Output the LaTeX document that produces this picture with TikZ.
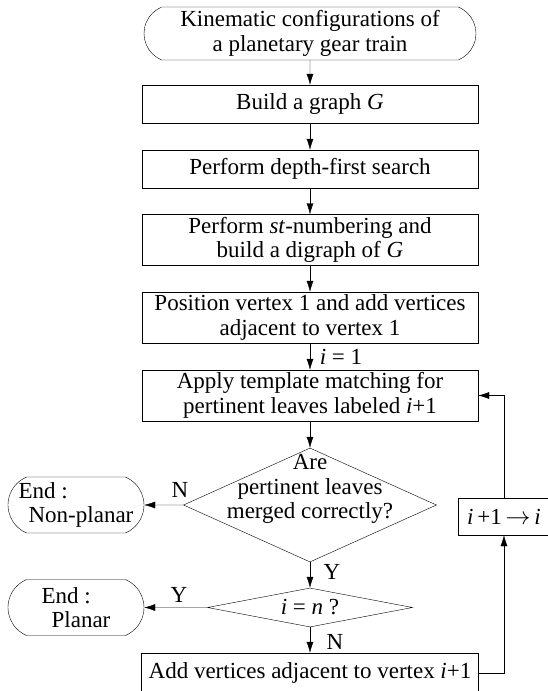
\documentclass[tikz,border=0pt]{standalone}
\usepackage{fontspec}
\setmainfont{Liberation Serif}
\usetikzlibrary{shapes.geometric,shapes.misc,arrows.meta}
\pgfdeclarelayer{edgelayer}
\pgfdeclarelayer{nodelayer}
\pgfsetlayers{edgelayer,nodelayer,main}
\tikzset{font=\fontsize{23}{24.5}\selectfont}
\tikzstyle{none}=[inner sep=0pt]
\tikzstyle{term}=[rounded rectangle,rounded rectangle arc length=135,draw,minimum width=332pt,minimum height=53pt,align=center,inner sep=0pt]
\tikzstyle{endterm}=[term,minimum width=136pt,minimum height=56pt,align=left]
\tikzstyle{proc}=[rectangle,draw,minimum width=336pt,minimum height=38pt,align=center,inner sep=0pt]
\tikzstyle{proc2}=[proc,minimum height=51pt]
\tikzstyle{decision}=[diamond,draw,inner sep=0pt]
\tikzstyle{flow}=[-{Latex[length=11pt,width=7pt]}]

\begin{document}
\begin{tikzpicture}[x=1pt,y=-1pt,line width=1.3pt]
	\useasboundingbox (0,0) rectangle (548,691);
	\begin{pgfonlayer}{nodelayer}
		\node [style=term] (0) at (310, 33.5) {Kinematic configurations of\\a planetary gear train};
		\node [style=proc] (1) at (310, 104) {Build a graph \textit{G}};
		\node [style=proc] (2) at (310, 169) {Perform depth-first search};
		\node [style=proc2] (3) at (310, 240) {Perform \textit{st}-numbering and\\build a digraph of \textit{G}};
		\node [style=proc2] (4) at (310, 317.5) {Position vertex 1 and add vertices\\adjacent to vertex 1};
		\node [style=proc2] (5) at (310, 395.5) {Apply template matching for\\pertinent leaves labeled \textit{i}+1};
		\node [style=decision, minimum width=253pt, minimum height=114pt] (6) at (310, 505) {};
		\node [style=none, align=center] (7) at (310, 489) {Are\\pertinent leaves\\merged correctly?};
		\node [style=endterm] (8) at (76, 505) {End :\\\hspace*{10pt}Non-planar};
		\node [style=decision, minimum width=205pt, minimum height=39pt] (9) at (310, 607.5) {};
		\node [style=none] (10) at (310, 607.5) {\textit{i} = \textit{n} ?};
		\node [style=endterm] (11) at (76, 607.5) {End :\\\hspace*{10pt}Planar};
		\node [style=proc, minimum width=337pt, minimum height=40pt] (12) at (310, 673) {Add vertices adjacent to vertex \textit{i}+1};
		\node [style=proc, minimum width=92pt, minimum height=37pt] (13) at (504, 516.5) {\textit{i}\,+1\,$\rightarrow$\,\textit{i}};
		\node [style=none] (14) at (504, 673) {};
		\node [style=none] (15) at (504, 395.5) {};
		\node [style=none] (16) at (341, 357) {\textit{i} = 1};
		\node [style=none] (17) at (180, 490) {N};
		\node [style=none] (18) at (332, 572) {Y};
		\node [style=none] (19) at (179, 595) {Y};
		\node [style=none] (20) at (335, 642) {N};
	\end{pgfonlayer}
	\begin{pgfonlayer}{edgelayer}
		\draw [style=flow] (0) to (1);
		\draw [style=flow] (1) to (2);
		\draw [style=flow] (2) to (3);
		\draw [style=flow] (3) to (4);
		\draw [style=flow] (4) to (5);
		\draw [style=flow] (5) to (6);
		\draw [style=flow] (6) to (8);
		\draw [style=flow] (6) to (9);
		\draw [style=flow] (9) to (11);
		\draw [style=flow] (9) to (12);
		\draw [style=flow] (12) to (14.center) to (13);
		\draw [style=flow] (13) to (15.center) to (5);
	\end{pgfonlayer}
\end{tikzpicture}
\end{document}
